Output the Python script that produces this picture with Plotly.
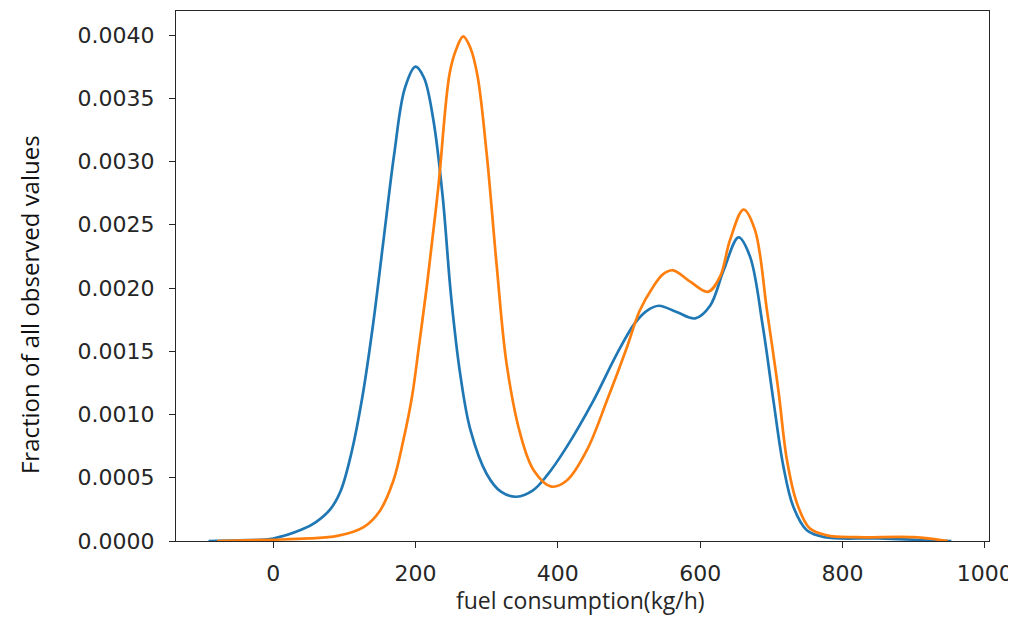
import plotly.graph_objects as go

# Series 1 (blue): x = fuel consumption (kg/h), y = fraction (density)
blue_x = [-91, -50, 0, 40, 60, 80, 95, 110, 125, 140, 155, 170, 185, 200, 212, 225, 238, 250,
          263, 277, 300, 320, 342, 365, 385, 412, 450, 483, 508, 525, 542, 567, 593, 614, 633,
          654, 670, 688, 703, 717, 731, 750, 775, 850, 953]
blue_y = [0.0, 0.000005, 0.00002, 0.00009, 0.00015, 0.00025, 0.0004, 0.0007, 0.00113,
          0.0017, 0.00238, 0.00306, 0.00358, 0.00375, 0.00366, 0.00333, 0.00273, 0.00193,
          0.00131, 0.00088, 0.00053, 0.00039, 0.00035, 0.0004, 0.00052, 0.00074, 0.00111,
          0.00148, 0.00172, 0.00182, 0.00186, 0.00181, 0.00176, 0.00186, 0.00214, 0.0024,
          0.00225, 0.0017, 0.00111, 0.00059, 0.00027, 0.000085, 0.00003, 0.00002, 0.0]

# Series 2 (orange)
orange_x = [-79, 0, 50, 90, 127, 150, 169, 183, 195, 205, 216, 232, 248, 258, 267, 277, 287,
            300, 314, 328, 347, 366, 391, 413, 441, 469, 497, 515, 534, 548, 562, 586, 611,
            628, 642, 661, 677, 694, 710, 722, 736, 754, 778, 820, 900, 948]
orange_y = [0.0, 0.00001, 0.00002, 0.00004, 0.00011, 0.00024, 0.00048, 0.0008, 0.00114,
            0.00155, 0.00202, 0.0028, 0.0037, 0.0039, 0.00399, 0.0039, 0.00368, 0.00306,
            0.00218, 0.0014, 0.00085, 0.00056, 0.00043, 0.00048, 0.00072, 0.00111, 0.00153,
            0.00182, 0.00201, 0.00211, 0.00214, 0.00205, 0.00197, 0.00209, 0.00238, 0.00262,
            0.00246, 0.00182, 0.00119, 0.00064, 0.0003, 0.0001, 0.000045, 0.00003, 0.00003,
            0.0]

x_ticks = [0, 200, 400, 600, 800, 1000]
y_ticks = [0.0, 0.0005, 0.001, 0.0015, 0.002, 0.0025, 0.003, 0.0035, 0.004]
y_tick_text = ["0.0000", "0.0005", "0.0010", "0.0015", "0.0020", "0.0025", "0.0030",
               "0.0035", "0.0040"]
x_title = "fuel consumption(kg/h)"
y_title = "Fraction of all observed values"

fig = go.Figure()
fig.add_trace(go.Scatter(x=blue_x, y=blue_y, mode="lines",
                         line=dict(color="#1f77b4", width=2.7, shape="spline", smoothing=1.0),
                         showlegend=False, hoverinfo="skip"))
fig.add_trace(go.Scatter(x=orange_x, y=orange_y, mode="lines",
                         line=dict(color="#ff7f0e", width=2.7, shape="spline", smoothing=1.0),
                         showlegend=False, hoverinfo="skip"))

tick_font = dict(family="DejaVu Sans", size=22, color="#262626")
axis_common = dict(showline=True, mirror=True, linecolor="#262626", linewidth=1.3,
                   ticks="outside", ticklen=6, tickwidth=1.3, tickcolor="#262626",
                   showgrid=False, zeroline=False, tickfont=tick_font, automargin=False)

# page has an 8px body margin; figure sized to fit the window
fig.update_layout(
    width=1008, height=611, autosize=False,
    margin=dict(l=168, r=27, t=3, b=78),
    paper_bgcolor="white", plot_bgcolor="white",
    xaxis=dict(range=[-136.7, 1006], tickvals=x_ticks, ticklabelstandoff=6, **axis_common),
    yaxis=dict(range=[0, 0.00419], tickvals=y_ticks, ticktext=y_tick_text,
               ticklabelstandoff=10, **axis_common),
    annotations=[
        dict(text=x_title, xref="paper", yref="paper", x=0.498, y=-0.1115,
             xanchor="center", yanchor="middle", showarrow=False, borderpad=0,
             font=dict(family="Open Sans", size=23, color="#262626")),
        dict(text=y_title, xref="paper", yref="paper", x=-0.1795, y=0.4453,
             xanchor="center", yanchor="middle", showarrow=False, textangle=-90,
             borderpad=0, font=dict(family="Open Sans", size=24, color="#111111")),
    ],
)

fig.write_html("out.html", config={"displayModeBar": False})
